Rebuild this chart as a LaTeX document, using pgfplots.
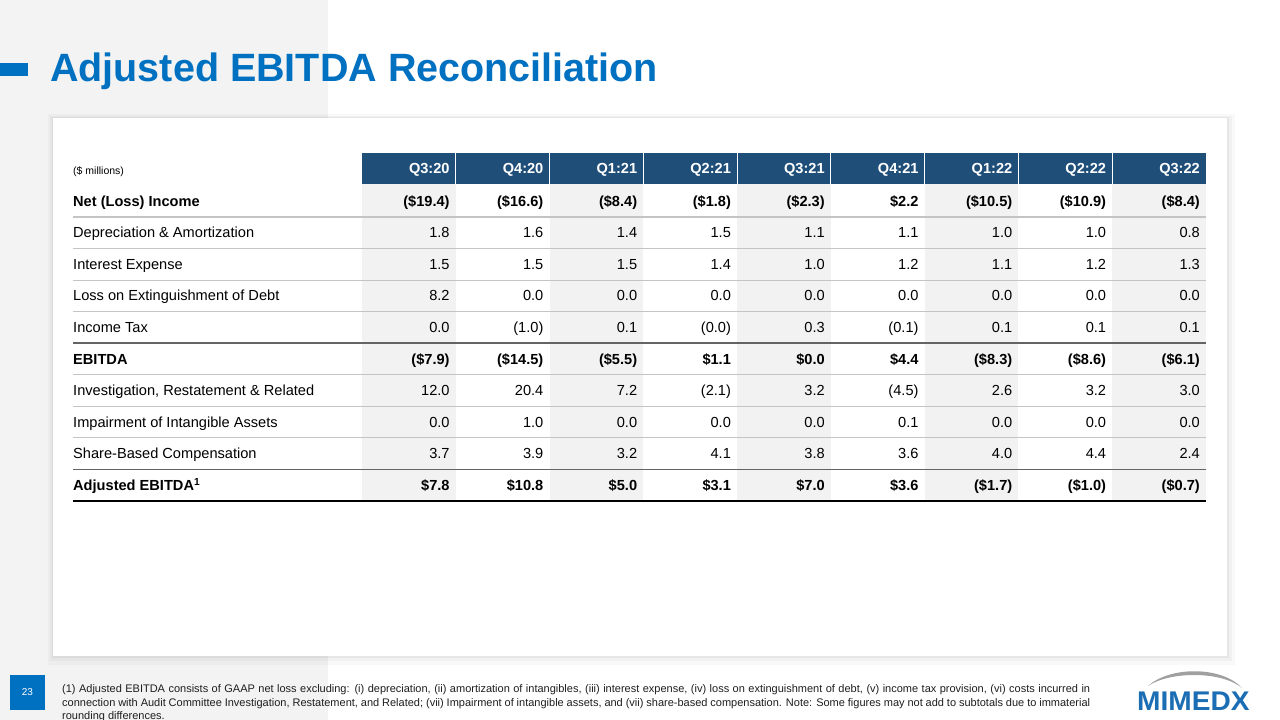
\documentclass[border=0pt]{standalone}
\usepackage{fontspec}
\setmainfont{Liberation Sans}
\usepackage{pgfplots}
\usepackage{pgfplotstable}
\pgfplotsset{compat=1.18}

\definecolor{titleblue}{RGB}{0,112,192}
\definecolor{headblue}{RGB}{31,78,121}
\definecolor{shadecol}{RGB}{242,242,242}
\definecolor{bggrey}{RGB}{243,243,243}
\definecolor{lightline}{RGB}{196,196,196}
\definecolor{darkline}{RGB}{100,100,100}
\definecolor{logoblue}{RGB}{27,110,180}
\definecolor{logogrey}{RGB}{160,160,160}
\definecolor{notecol}{RGB}{30,30,30}

\newcommand{\bodyfont}{\fontsize{14.6}{16}\selectfont}

% header row
\pgfplotstableread[col sep=semicolon,row sep=\\]{
k;q\\
1;Q3:20\\
2;Q4:20\\
3;Q1:21\\
4;Q2:21\\
5;Q3:21\\
6;Q4:21\\
7;Q1:22\\
8;Q2:22\\
9;Q3:22\\
}\headrow

% bold (total) rows
\pgfplotstableread[col sep=semicolon,row sep=\\]{
r;label;q1;q2;q3;q4;q5;q6;q7;q8;q9\\
1;Net (Loss) Income;(\$19.4);(\$16.6);(\$8.4);(\$1.8);(\$2.3);\$2.2;(\$10.5);(\$10.9);(\$8.4)\\
6;EBITDA;(\$7.9);(\$14.5);(\$5.5);\$1.1;\$0.0;\$4.4;(\$8.3);(\$8.6);(\$6.1)\\
10;Adjusted EBITDA\textsuperscript{1};\$7.8;\$10.8;\$5.0;\$3.1;\$7.0;\$3.6;(\$1.7);(\$1.0);(\$0.7)\\
}\boldrows

% regular rows
\pgfplotstableread[col sep=semicolon,row sep=\\]{
r;label;q1;q2;q3;q4;q5;q6;q7;q8;q9\\
2;Depreciation \& Amortization;1.8;1.6;1.4;1.5;1.1;1.1;1.0;1.0;0.8\\
3;Interest Expense;1.5;1.5;1.5;1.4;1.0;1.2;1.1;1.2;1.3\\
4;Loss on Extinguishment of Debt;8.2;0.0;0.0;0.0;0.0;0.0;0.0;0.0;0.0\\
5;Income Tax;0.0;(1.0);0.1;(0.0);0.3;(0.1);0.1;0.1;0.1\\
7;Investigation, Restatement \& Related;12.0;20.4;7.2;(2.1);3.2;(4.5);2.6;3.2;3.0\\
8;Impairment of Intangible Assets;0.0;1.0;0.0;0.0;0.0;0.1;0.0;0.0;0.0\\
9;Share-Based Compensation;3.7;3.9;3.2;4.1;3.8;3.6;4.0;4.4;2.4\\
}\normalrows

\begin{document}
\begin{tikzpicture}
\begin{axis}[
  scale only axis, width=1280pt, height=720pt,
  xmin=0, xmax=1280, ymin=0, ymax=720, y dir=reverse,
  hide axis, clip=false]

% backgrounds
\fill[white] (axis cs:0,0) rectangle (axis cs:1280,720);
\fill[bggrey] (axis cs:0,0) rectangle (axis cs:328,720);
% card with soft shadow
\fill[black, opacity=0.025] (axis cs:48,114) rectangle (axis cs:1235,665);
\fill[black, opacity=0.03] (axis cs:50,116) rectangle (axis cs:1232,661);
\fill[black, opacity=0.045] (axis cs:52,117) rectangle (axis cs:1229,658);
\fill[white] (axis cs:53,118) rectangle (axis cs:1227,656);

% title
\fill[titleblue] (axis cs:0,63) rectangle (axis cs:28,76);
\node[anchor=base west, inner sep=0pt, text=titleblue, font=\fontsize{39.5}{40}\selectfont\bfseries]
  at (axis cs:50,81) {Adjusted EBITDA Reconciliation};

% shaded columns
\pgfplotsinvokeforeach{0,2,4,6,8}{
  \fill[shadecol] (axis cs:{362+93.78*#1},184) rectangle (axis cs:{362+93.78*(#1+1)},500.8);
}
% header band
\fill[headblue] (axis cs:362,153) rectangle (axis cs:1206,184);
\pgfplotsinvokeforeach{1,...,8}{
  \draw[white, line width=1pt] (axis cs:{362+93.78*#1},153) -- (axis cs:{362+93.78*#1},184);
}

% row rules
\draw[lightline, line width=2pt] (axis cs:73,216.8) -- (axis cs:1206,216.8);
\pgfplotsinvokeforeach{2,3,4,6,7,8}{
  \draw[lightline, line width=0.8pt] (axis cs:73,{216.8+31.56*(#1-1)}) -- (axis cs:1206,{216.8+31.56*(#1-1)});
}
\draw[darkline, line width=1.5pt] (axis cs:73,343.0) -- (axis cs:1206,343.0);
\draw[darkline, line width=1.5pt] (axis cs:73,469.3) -- (axis cs:1206,469.3);
\draw[black, line width=2pt] (axis cs:73,500.8) -- (axis cs:1206,500.8);

\node[anchor=base west, inner sep=0pt, font=\fontsize{10.5}{12}\selectfont] at (axis cs:73,174) {(\$ millions)};

% header text
\addplot[draw=none, nodes near coords, point meta=explicit symbolic,
  nodes near coords style={anchor=base east, inner sep=0pt, text=white, font=\bodyfont\bfseries}]
  table[x expr={362+93.78*\thisrow{k}-6}, y expr=173.8, meta=q]{\headrow};

% row labels
\addplot[draw=none, nodes near coords, point meta=explicit symbolic,
  nodes near coords style={anchor=base west, inner sep=0pt, text=black, font=\bodyfont\bfseries}]
  table[x expr=73, y expr={206.2+31.56*(\thisrow{r}-1)}, meta=label]{\boldrows};
\addplot[draw=none, nodes near coords, point meta=explicit symbolic,
  nodes near coords style={anchor=base west, inner sep=0pt, text=black, font=\bodyfont}]
  table[x expr=73, y expr={206.2+31.56*(\thisrow{r}-1)}, meta=label]{\normalrows};

% values
\pgfplotsinvokeforeach{1,...,9}{
  \addplot[draw=none, nodes near coords, point meta=explicit symbolic,
    nodes near coords style={anchor=base east, inner sep=0pt, text=black, font=\bodyfont\bfseries}]
    table[x expr={362+93.78*#1-6}, y expr={206.2+31.56*(\thisrow{r}-1)}, meta=q#1]{\boldrows};
  \addplot[draw=none, nodes near coords, point meta=explicit symbolic,
    nodes near coords style={anchor=base east, inner sep=0pt, text=black, font=\bodyfont}]
    table[x expr={362+93.78*#1-6}, y expr={206.2+31.56*(\thisrow{r}-1)}, meta=q#1]{\normalrows};
}

% page number
\fill[titleblue] (axis cs:10,675) rectangle (axis cs:45,710);
\node[text=white, font=\fontsize{10}{11}\selectfont, inner sep=0pt] at (axis cs:27.5,692.5) {23};

% footnote
\node[anchor=north west, inner sep=0pt, text width=1028pt, align=justify,
  text=notecol, font=\fontsize{11}{13.5}\selectfont] at (axis cs:62,684.5)
  {(1) Adjusted EBITDA consists of GAAP net loss excluding: (i) depreciation, (ii) amortization of intangibles, (iii) interest expense, (iv) loss on extinguishment of debt, (v) income tax provision, (vi) costs incurred in connection with Audit Committee Investigation, Restatement, and Related; (vii) Impairment of intangible assets, and (vii) share-based compensation. Note: Some figures may not add to subtotals due to immaterial rounding differences.};

% logo
\fill[logogrey] (axis cs:1148,686) .. controls (axis cs:1170,666) and (axis cs:1222,666) .. (axis cs:1242,688)
  .. controls (axis cs:1222,671) and (axis cs:1170,671) .. cycle;
\node[anchor=base west, inner sep=0pt, text=logoblue, font=\fontsize{27}{27}\selectfont\bfseries, xscale=1.04]
  at (axis cs:1137,710) {MIMEDX};

\end{axis}
\pgfresetboundingbox
\useasboundingbox (current axis.south west) rectangle (current axis.north east);
\end{tikzpicture}
\end{document}
